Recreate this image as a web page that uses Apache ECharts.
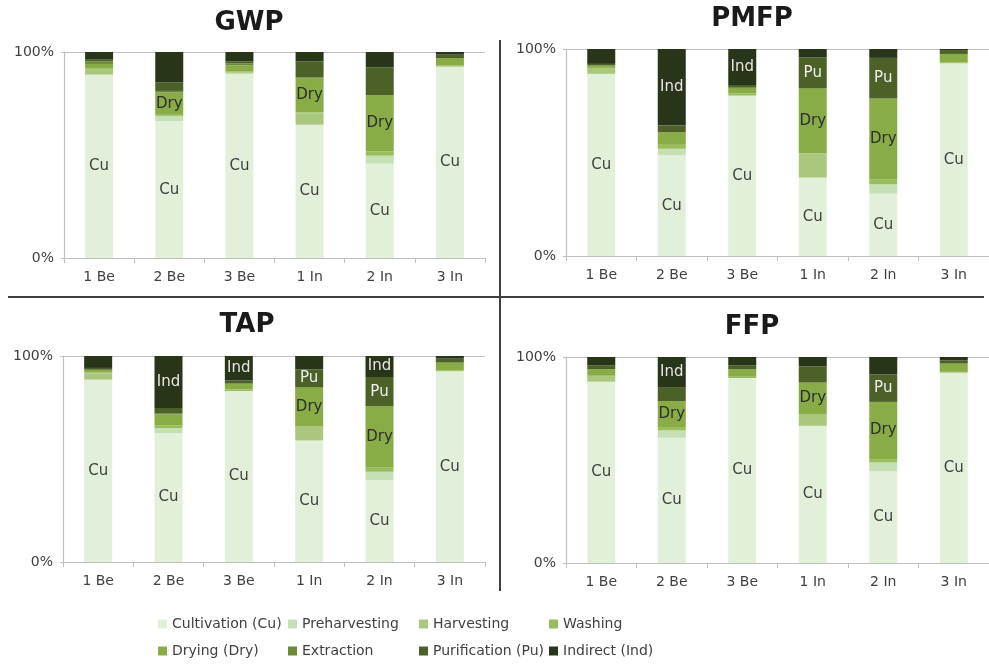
<!DOCTYPE html>
<html>
<head>
<meta charset="utf-8">
<script src="https://cdn.jsdelivr.net/npm/echarts@6/dist/echarts.min.js"></script>
<style>
html,body{margin:0;padding:0;background:#fff;}
#chart{width:989px;height:664px;}
</style>
</head>
<body>
<div id="chart"></div>
<script>
// ---------- DATA ----------
const CATEGORIES = ['1 Be', '2 Be', '3 Be', '1 In', '2 In', '3 In'];
const STAGES = ['Cultivation (Cu)', 'Preharvesting', 'Harvesting', 'Washing',
                'Drying (Dry)', 'Extraction', 'Purification (Pu)', 'Indirect (Ind)'];
const STAGE_SHORT = ['Cu', '', '', '', 'Dry', '', 'Pu', 'Ind'];
const PANELS = ['GWP', 'PMFP', 'TAP', 'FFP'];
const Y_TICKS = [0, 100]; // shown as 0% and 100%

// rows follow STAGES order, columns follow CATEGORIES order (% share)
const GWP = [
  [89.0, 66.3, 89.5, 64.7, 45.8, 92.9],
  [0.0,  2.7,  0.0,  0.0,  3.9,  0.0],
  [2.4,  0.0,  0.5,  5.5,  0.0,  0.0],
  [0.5,  0.5,  0.5,  0.5,  2.1,  0.5],
  [2.3, 10.8,  3.0, 16.5, 27.2,  3.7],
  [1.3,  0.8,  1.0,  0.5,  0.0,  0.0],
  [0.8,  4.2,  1.0,  7.8, 13.6,  1.6],
  [3.7, 14.7,  4.5,  4.5,  7.4,  1.3]
];
const PMFP = [
  [88.0, 48.6, 77.5, 37.9, 30.1, 93.1],
  [0.0,  3.2,  0.0,  0.0,  4.5,  0.0],
  [2.4,  0.0,  0.0, 11.7,  0.0,  0.0],
  [0.5,  1.9,  1.1,  0.0,  2.4,  0.5],
  [1.1,  6.1,  2.7, 31.4, 39.1,  4.0],
  [0.0,  0.0,  0.0,  0.0,  0.0,  0.0],
  [0.8,  3.2,  1.3, 15.0, 19.6,  1.9],
  [7.2, 37.0, 17.4,  4.0,  4.3,  0.5]
];
const TAP = [
  [88.5, 62.6, 83.0, 59.0, 39.8, 92.6],
  [0.0,  2.4,  0.0,  0.0,  4.0,  0.0],
  [3.0,  0.0,  0.0,  6.8,  0.0,  0.0],
  [0.5,  1.4,  0.8,  0.0,  1.9,  0.5],
  [1.3,  5.3,  2.8, 19.1, 29.9,  3.7],
  [0.0,  0.3,  0.0,  0.0,  0.0,  0.0],
  [0.9,  2.8,  1.6,  8.6, 14.2,  1.9],
  [5.8, 25.2, 11.8,  6.5, 10.2,  1.3]
];
const FFP = [
  [88.0, 60.8, 89.8, 66.6, 44.6, 92.4],
  [0.0,  3.6,  0.0,  0.0,  4.2,  0.0],
  [2.4,  0.0,  0.0,  5.5,  0.0,  0.0],
  [0.5,  1.6,  0.6,  0.0,  1.6,  0.4],
  [3.2, 12.6,  3.7, 15.5, 27.8,  4.0],
  [0.0,  0.0,  0.0,  0.0,  0.0,  0.0],
  [1.9,  6.5,  1.9,  7.9, 13.4,  1.6],
  [4.0, 14.9,  4.0,  4.5,  8.4,  1.6]
];
// which bars carry an in-segment label (1 = shown), for Drying, Purification, Indirect
const GWP_LABELS  = { dry: [0,1,0,1,1,0], pu: [0,0,0,0,0,0], ind: [0,0,0,0,0,0] };
const PMFP_LABELS = { dry: [0,0,0,1,1,0], pu: [0,0,0,1,1,0], ind: [0,1,1,0,0,0] };
const TAP_LABELS  = { dry: [0,0,0,1,1,0], pu: [0,0,0,1,1,0], ind: [0,1,1,0,1,0] };
const FFP_LABELS  = { dry: [0,1,0,1,1,0], pu: [0,0,0,0,1,0], ind: [0,1,0,0,0,0] };

// ---------- STYLE ----------
const COLORS = ['#E2F0D9', '#C5E0B4', '#A9C87E', '#98BE5C', '#88AC46', '#6A8A35', '#4C6128', '#283518'];
const LABEL_COLORS = ['#404040', '#404040', '#404040', '#404040', '#2e2e2e', '#f0f0f0', '#f0f0f0', '#e6e6e6'];
const FONT = 'DejaVu Sans';
const panelData = [GWP, PMFP, TAP, FFP];
const panelLabels = [GWP_LABELS, PMFP_LABELS, TAP_LABELS, FFP_LABELS];
const grids = [
  { left: 64,  top: 52,  width: 421, height: 206 },
  { left: 566, top: 49,  width: 425, height: 207 },
  { left: 63,  top: 356, width: 422, height: 206 },
  { left: 566, top: 357, width: 425, height: 206 }
];
const titlePos = [
  { left: 249, top: 10 },
  { left: 752, top: 6 },
  { left: 247, top: 312 },
  { left: 752, top: 314 }
];

function labelShown(pi, si, ci) {
  if (si === 0) return true;
  const L = panelLabels[pi];
  if (si === 4) return !!L.dry[ci];
  if (si === 6) return !!L.pu[ci];
  if (si === 7) return !!L.ind[ci];
  return false;
}

const axisGray = '#BFBFBF';
const xAxes = [], yAxes = [], series = [], titles = [];
PANELS.forEach((p, pi) => {
  titles.push({
    text: p, left: titlePos[pi].left, top: titlePos[pi].top, textAlign: 'center', padding: 0,
    textStyle: { fontFamily: FONT, fontSize: 26, fontWeight: 'bold', color: '#1a1a1a' }
  });
  xAxes.push({
    type: 'category', gridIndex: pi, data: CATEGORIES, boundaryGap: true,
    axisLine: { lineStyle: { color: axisGray, width: 1.2 } },
    axisTick: { show: true, length: 5, alignWithLabel: false, lineStyle: { color: axisGray } },
    axisLabel: { color: '#404040', fontFamily: FONT, fontSize: 14, margin: 12 }
  });
  yAxes.push({
    type: 'value', gridIndex: pi, min: Y_TICKS[0], max: Y_TICKS[1], interval: Y_TICKS[1] - Y_TICKS[0],
    axisLine: { show: true, lineStyle: { color: axisGray, width: 1.2 } },
    axisTick: { show: true, length: 3, lineStyle: { color: axisGray } },
    splitLine: { show: true, lineStyle: { color: axisGray, width: 1.2 } },
    axisLabel: { color: '#404040', fontFamily: FONT, fontSize: 14, margin: 10, formatter: '{value}%' }
  });
  STAGES.forEach((s, si) => {
    series.push({
      type: 'bar', name: s, xAxisIndex: pi, yAxisIndex: pi, stack: 'panel' + pi,
      barWidth: 28,
      itemStyle: { color: COLORS[si] },
      label: {
        show: false, position: 'inside', fontFamily: FONT, fontSize: 15,
        color: LABEL_COLORS[si], formatter: () => STAGE_SHORT[si]
      },
      emphasis: { disabled: true },
      data: panelData[pi][si].map((v, ci) => ({ value: v, label: { show: labelShown(pi, si, ci) } }))
    });
  });
});

const legendCols = [158, 288, 419, 549];
const legendRows = [617, 644];
const legends = STAGES.map((s, i) => ({
  data: [s], left: legendCols[i % 4], top: legendRows[Math.floor(i / 4)], padding: 0,
  icon: 'rect', itemWidth: 9, itemHeight: 9,
  textStyle: { fontFamily: FONT, fontSize: 14, color: '#404040' }
}));

const chart = echarts.init(document.getElementById('chart'), null, { renderer: 'canvas' });
chart.setOption({
  backgroundColor: '#ffffff',
  animation: false,
  title: titles,
  legend: legends,
  grid: grids,
  xAxis: xAxes,
  yAxis: yAxes,
  series: series,
  graphic: [
    { type: 'line', shape: { x1: 8, y1: 297, x2: 984, y2: 297 }, style: { stroke: '#404040', lineWidth: 2 }, z: 10 },
    { type: 'line', shape: { x1: 500, y1: 40, x2: 500, y2: 591 }, style: { stroke: '#404040', lineWidth: 2 }, z: 10 }
  ]
});
</script>
</body>
</html>
